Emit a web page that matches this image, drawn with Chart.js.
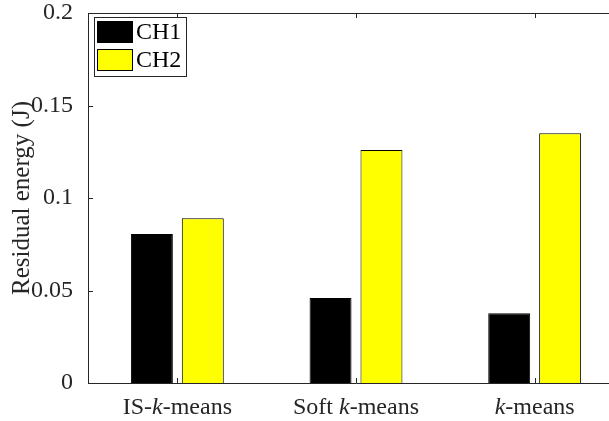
<!DOCTYPE html>
<html>
<head>
<meta charset="utf-8">
<script src="https://cdn.jsdelivr.net/npm/chart.js@4.4.0/dist/chart.umd.min.js"></script>
<style>
  html, body { margin: 0; padding: 0; overflow: hidden; background: #fff; }
  #wrap { width: 640px; height: 421px; }
</style>
</head>
<body>
<div id="wrap"><canvas id="chart" width="640" height="421"></canvas></div>
<script>
const categories = ['IS-k-means', 'Soft k-means', 'k-means'];
const seriesNames = ['CH1', 'CH2'];
const ch1 = [0.0805, 0.046, 0.0377];
const ch2 = [0.089, 0.126, 0.135];
const yTicks = [0, 0.05, 0.1, 0.15, 0.2];
const colors = ['#000000', '#ffff00'];

const axisColor = '#262626';
const serif = '"Liberation Serif", "Times New Roman", serif';

// axis lines (right side falls outside the window), inward ticks,
// category labels with italic k, boxed legend
const matlabLook = {
  id: 'matlabLook',
  afterDatasetsDraw(chart) {
    const { ctx, chartArea: a, scales: { x, y } } = chart;
    ctx.save();
    ctx.strokeStyle = axisColor;
    ctx.lineWidth = 1;
    const l = a.left + 0.5, t = a.top + 0.5, b = a.bottom + 0.5;
    ctx.beginPath();
    ctx.moveTo(a.right, t); ctx.lineTo(l, t); ctx.lineTo(l, b); ctx.lineTo(a.right, b);
    yTicks.forEach(v => {
      const py = Math.round(y.getPixelForValue(v)) + 0.5;
      ctx.moveTo(a.left, py); ctx.lineTo(a.left + 5, py);
    });
    categories.forEach((c, i) => {
      const px = Math.round(x.getPixelForValue(i)) + 0.5;
      ctx.moveTo(px, a.bottom); ctx.lineTo(px, a.bottom - 5);
      ctx.moveTo(px, a.top); ctx.lineTo(px, a.top + 5);
    });
    ctx.stroke();

    // category labels
    ctx.fillStyle = axisColor;
    ctx.textBaseline = 'alphabetic';
    ctx.textAlign = 'left';
    categories.forEach((c, i) => {
      const parts = c.split(/(\bk\b)/).filter(s => s.length);
      const fontFor = s => (s === 'k' ? 'italic ' : '') + '24px ' + serif;
      let w = 0;
      parts.forEach(s => { ctx.font = fontFor(s); w += ctx.measureText(s).width; });
      let px = x.getPixelForValue(i) - w / 2;
      parts.forEach(s => {
        ctx.font = fontFor(s);
        ctx.fillText(s, px, a.bottom + 31);
        px += ctx.measureText(s).width;
      });
    });

    // legend
    const lx = a.left + 6, ly = a.top + 4;
    ctx.fillStyle = '#fff';
    ctx.fillRect(lx, ly, 92, 59);
    ctx.strokeRect(lx + 0.5, ly + 0.5, 92, 59);
    ctx.font = '24px ' + serif;
    ctx.textBaseline = 'middle';
    chart.data.datasets.forEach((ds, i) => {
      const sy = ly + 4 + i * 28;
      ctx.fillStyle = ds.backgroundColor;
      ctx.fillRect(lx + 3, sy, 36, 22);
      ctx.strokeStyle = '#000';
      ctx.strokeRect(lx + 3.5, sy + 0.5, 35, 21);
      ctx.fillStyle = '#000';
      ctx.fillText(ds.label, lx + 42, sy + 12);
    });
    ctx.restore();
  }
};

new Chart(document.getElementById('chart'), {
  type: 'bar',
  data: {
    labels: categories,
    datasets: [
      { label: seriesNames[0], data: ch1, backgroundColor: colors[0], borderColor: '#000', borderWidth: 1 },
      { label: seriesNames[1], data: ch2, backgroundColor: colors[1], borderColor: '#000', borderWidth: 1 }
    ]
  },
  options: {
    responsive: false,
    animation: false,
    categoryPercentage: 0.57,
    barPercentage: 0.824,
    layout: { padding: { top: 13, right: 16, left: 0, bottom: 0 } },
    plugins: { legend: { display: false }, tooltip: { enabled: false } },
    scales: {
      x: {
        grid: { display: false },
        border: { display: false },
        ticks: { display: false },
        afterFit: s => { s.height = 38; }
      },
      y: {
        min: 0,
        max: 0.2,
        grid: { display: false },
        border: { display: false },
        afterBuildTicks: s => { s.ticks = yTicks.map(v => ({ value: v })); },
        ticks: {
          color: axisColor,
          padding: 7,
          font: { family: serif, size: 24 },
          callback: v => String(v)
        },
        title: {
          display: true,
          text: 'Residual energy (J)',
          color: axisColor,
          padding: { top: 7, bottom: 0 },
          font: { family: serif, size: 25 }
        },
        afterFit: s => { s.width = 88; s.paddingTop = 0; s.paddingBottom = 0; }
      }
    }
  },
  plugins: [matlabLook]
});
</script>
</body>
</html>
